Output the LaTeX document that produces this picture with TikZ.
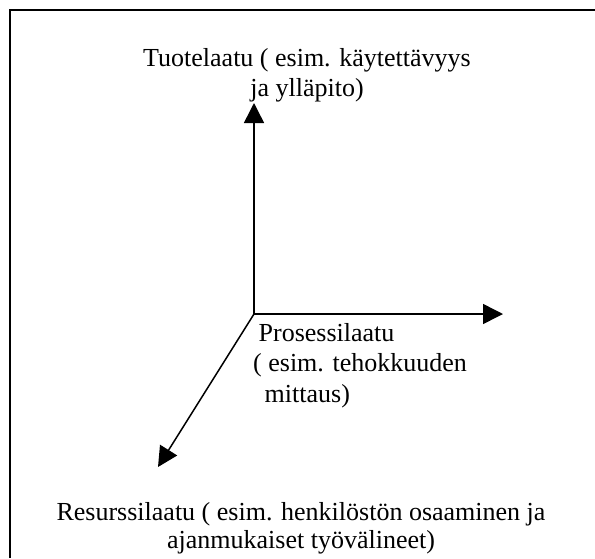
\documentclass[tikz,border=0pt]{standalone}
\usepackage{fontspec}
\setmainfont{Liberation Serif}
\usetikzlibrary{arrows.meta}
\begin{document}
\begin{tikzpicture}[x=1pt,y=-1pt,
  frame/.style={line width=2.5pt},
  axis/.style={line width=1.5pt,-{Triangle[length=20pt,width=20pt]}},
  lbl/.style={inner sep=0pt,font=\fontsize{26}{30}\selectfont}]
\useasboundingbox (0,0) rectangle (595,558);
% frame (top and left edges)
\draw[frame] (10,558) -- (10,10) -- (595,10);
% axes
\coordinate (O) at (254,314);
\coordinate (V) at (254,103);
\coordinate (H) at (503,314);
\coordinate (D) at (158,467);
\draw[axis] (O) -- (V);
\draw[axis] (O) -- (H);
\draw[axis] (O) -- (D);
% labels
\node[lbl,anchor=base] (t1) at (307,66) {Tuotelaatu ( esim. käytettävyys};
\node[lbl,anchor=base] (t2) at (307,96) {ja ylläpito)};
\node[lbl,anchor=base west] (p1) at (258.5,341) {Prosessilaatu};
\node[lbl,anchor=base west] (p2) at (253,371.5) {( esim. tehokkuuden};
\node[lbl,anchor=base west] (p3) at (264.5,402) {mittaus)};
\node[lbl,anchor=base] (r1) at (301,520) {Resurssilaatu ( esim. henkilöstön osaaminen ja};
\node[lbl,anchor=base] (r2) at (301,548) {ajanmukaiset työvälineet)};
\end{tikzpicture}
\end{document}
